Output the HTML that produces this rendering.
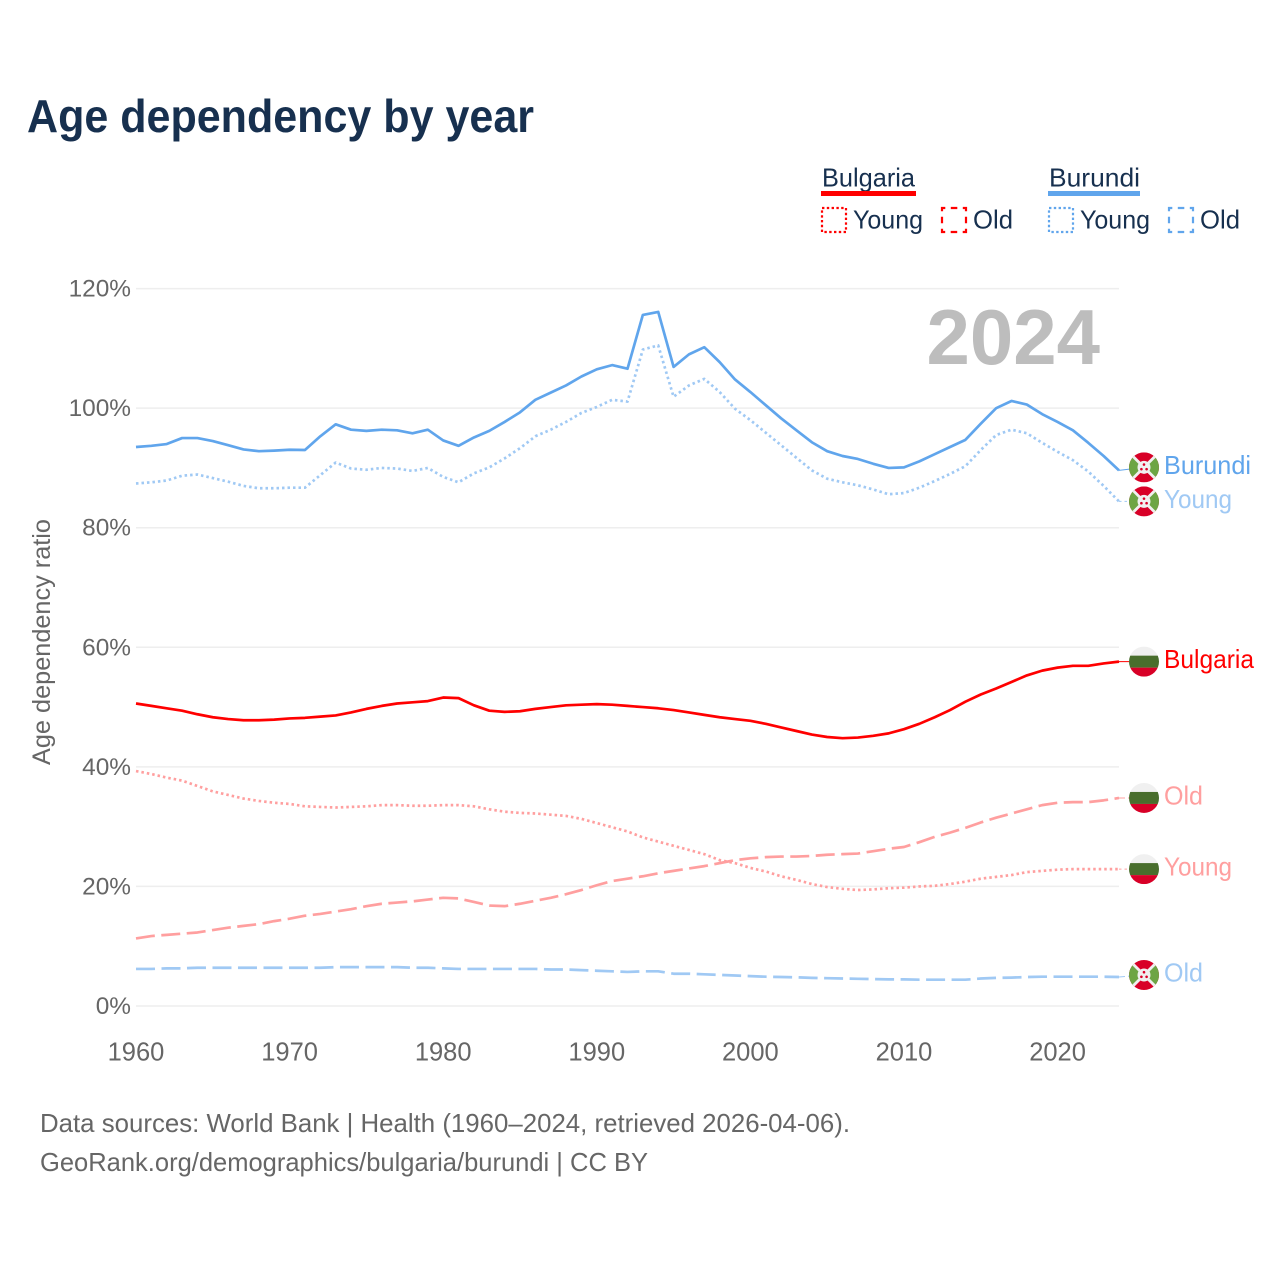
<!DOCTYPE html>
<html lang="en">
<head>
<meta charset="utf-8">
<title>Age dependency by year</title>
<style>
html,body{margin:0;padding:0;background:#fff;}
svg{display:block;font-family:"Liberation Sans",sans-serif;}
</style>
</head>
<body>
<svg id="chart" xmlns="http://www.w3.org/2000/svg" width="1280" height="1280" viewBox="0 0 1280 1280">
  <defs>
    <clipPath id="flag-clip"><circle cx="0" cy="0" r="15"/></clipPath>
    <g id="flag-bulgaria" clip-path="url(#flag-clip)">
      <rect x="-15" y="-15" width="30" height="30" fill="#f0f0f0"/>
      <rect x="-15" y="-6" width="30" height="12" fill="#496e2d"/>
      <rect x="-15" y="6" width="30" height="9" fill="#d80027"/>
    </g>
    <g id="flag-burundi" clip-path="url(#flag-clip)">
      <rect x="-15" y="-15" width="30" height="30" fill="#d80027"/>
      <polygon points="-15,-15 0,0 -15,15" fill="#6da544"/>
      <polygon points="15,-15 0,0 15,15" fill="#6da544"/>
      <line x1="-15" y1="-15" x2="15" y2="15" stroke="#f0f0f0" stroke-width="2.8"/>
      <line x1="15" y1="-15" x2="-15" y2="15" stroke="#f0f0f0" stroke-width="2.8"/>
      <circle cx="0" cy="0" r="6.5" fill="#f0f0f0"/>
      <circle cx="0" cy="-2.8" r="1.3" fill="#d80027"/>
      <circle cx="-2.6" cy="1.8" r="1.3" fill="#d80027"/>
      <circle cx="2.6" cy="1.8" r="1.3" fill="#d80027"/>
    </g>
  </defs>

  <text x="27" y="132" font-size="46" font-weight="700" fill="#17304f" textLength="507" lengthAdjust="spacingAndGlyphs">Age dependency by year</text>

  <g font-size="26" fill="#17304f">
    <text x="822" y="186.5" textLength="93" lengthAdjust="spacingAndGlyphs">Bulgaria</text>
    <rect x="821" y="191" width="95" height="5" fill="#ff0000"/>
    <rect x="822" y="208" width="24" height="24" fill="none" stroke="#ff0000" stroke-width="2.2" stroke-dasharray="2.4 2.4"/>
    <text x="853" y="228.5" textLength="70" lengthAdjust="spacingAndGlyphs">Young</text>
    <rect x="942" y="208" width="24" height="24" fill="none" stroke="#ff0000" stroke-width="2.2" stroke-dasharray="6.5 5.5" stroke-dashoffset="3.2"/>
    <text x="973" y="228.5" textLength="40" lengthAdjust="spacingAndGlyphs">Old</text>

    <text x="1049" y="186.5" textLength="91" lengthAdjust="spacingAndGlyphs">Burundi</text>
    <rect x="1048" y="191" width="92" height="5" fill="#60a5ec"/>
    <rect x="1049" y="208" width="24" height="24" fill="none" stroke="#60a5ec" stroke-width="2.2" stroke-dasharray="2.4 2.4"/>
    <text x="1080" y="228.5" textLength="70" lengthAdjust="spacingAndGlyphs">Young</text>
    <rect x="1169" y="208" width="24" height="24" fill="none" stroke="#60a5ec" stroke-width="2.2" stroke-dasharray="6.5 5.5" stroke-dashoffset="3.2"/>
    <text x="1200" y="228.5" textLength="40" lengthAdjust="spacingAndGlyphs">Old</text>
  </g>

  <g id="grid"></g>
  <text x="1100" y="364" text-anchor="end" font-size="78" font-weight="700" fill="#bdbdbd">2024</text>
  <g id="axis-labels"></g>
  <text transform="translate(50,642) rotate(-90)" text-anchor="middle" font-size="25" fill="#666666" textLength="246" lengthAdjust="spacingAndGlyphs">Age dependency ratio</text>
  <g id="series"></g>
  <g id="end-labels"></g>

  <g font-size="26" fill="#666666">
    <text x="40" y="1132" textLength="810" lengthAdjust="spacingAndGlyphs">Data sources: World Bank | Health (1960–2024, retrieved 2026-04-06).</text>
    <text x="40" y="1171" textLength="608" lengthAdjust="spacingAndGlyphs">GeoRank.org/demographics/bulgaria/burundi | CC BY</text>
  </g>
</svg>
<script>
const years = [1960,1961,1962,1963,1964,1965,1966,1967,1968,1969,1970,1971,1972,1973,1974,1975,1976,1977,1978,1979,1980,1981,1982,1983,1984,1985,1986,1987,1988,1989,1990,1991,1992,1993,1994,1995,1996,1997,1998,1999,2000,2001,2002,2003,2004,2005,2006,2007,2008,2009,2010,2011,2012,2013,2014,2015,2016,2017,2018,2019,2020,2021,2022,2023,2024];
const yTicks = [0,20,40,60,80,100,120];
const xTicks = [1960,1970,1980,1990,2000,2010,2020];

const burundiTotal = [93.5,93.7,94.0,95.0,95.0,94.5,93.8,93.1,92.8,92.9,93.05,93.0,95.3,97.3,96.4,96.2,96.4,96.3,95.8,96.4,94.6,93.7,95.1,96.2,97.7,99.3,101.4,102.6,103.8,105.3,106.5,107.2,106.6,115.6,116.1,106.9,109.0,110.2,107.7,104.8,102.7,100.5,98.3,96.3,94.3,92.8,92.0,91.5,90.7,90.0,90.1,91.1,92.3,93.5,94.7,97.4,100.0,101.2,100.6,99.0,97.7,96.3,94.2,92.0,89.6];
const burundiYoung = [87.4,87.6,87.9,88.7,88.9,88.3,87.7,87.0,86.6,86.6,86.7,86.7,88.8,90.9,89.9,89.7,90.0,89.9,89.5,90.0,88.5,87.6,89.1,90.1,91.6,93.3,95.3,96.4,97.7,99.2,100.2,101.4,101.1,109.8,110.5,101.9,103.8,104.9,102.7,99.9,98.0,95.9,93.8,91.7,89.6,88.2,87.6,87.1,86.4,85.6,85.8,86.7,87.8,89.0,90.3,93.0,95.5,96.4,95.8,94.2,92.7,91.3,89.4,87.0,84.4];
const burundiOld = [6.2,6.2,6.3,6.3,6.4,6.4,6.4,6.4,6.4,6.4,6.4,6.4,6.4,6.5,6.5,6.5,6.5,6.5,6.4,6.4,6.3,6.2,6.2,6.2,6.2,6.2,6.2,6.1,6.1,6.0,5.9,5.8,5.7,5.8,5.8,5.4,5.4,5.3,5.2,5.1,5.0,4.9,4.85,4.8,4.7,4.65,4.6,4.55,4.5,4.45,4.45,4.4,4.4,4.4,4.4,4.6,4.7,4.75,4.85,4.9,4.9,4.9,4.9,4.9,4.85];
const bulgariaTotal = [50.6,50.2,49.8,49.4,48.8,48.3,48.0,47.8,47.8,47.9,48.1,48.2,48.4,48.6,49.1,49.7,50.2,50.6,50.8,51.0,51.6,51.5,50.3,49.4,49.2,49.3,49.7,50.0,50.3,50.4,50.5,50.4,50.2,50.0,49.8,49.5,49.1,48.7,48.3,48.0,47.7,47.2,46.6,46.0,45.4,45.0,44.8,44.9,45.2,45.6,46.3,47.2,48.3,49.5,50.9,52.1,53.1,54.2,55.3,56.1,56.6,56.9,56.9,57.3,57.6];
const bulgariaYoung = [39.3,38.8,38.2,37.7,36.8,35.9,35.3,34.7,34.3,34.0,33.8,33.4,33.3,33.2,33.3,33.4,33.6,33.6,33.5,33.5,33.6,33.6,33.4,32.9,32.5,32.3,32.2,32.0,31.8,31.3,30.6,29.9,29.2,28.2,27.5,26.8,26.1,25.4,24.4,23.9,23.1,22.5,21.7,21.1,20.4,19.9,19.6,19.4,19.5,19.7,19.8,20.0,20.1,20.4,20.8,21.3,21.6,21.9,22.4,22.6,22.8,22.9,22.9,22.9,22.9];
const bulgariaOld = [11.3,11.7,11.9,12.1,12.3,12.7,13.1,13.4,13.7,14.2,14.6,15.1,15.4,15.8,16.2,16.7,17.1,17.3,17.5,17.8,18.1,18.0,17.4,16.8,16.7,17.1,17.6,18.1,18.7,19.4,20.2,20.9,21.3,21.7,22.2,22.6,23.0,23.4,23.9,24.4,24.7,24.9,25.0,25.0,25.1,25.3,25.4,25.5,25.9,26.3,26.6,27.4,28.3,29.0,29.8,30.7,31.5,32.2,32.9,33.6,34.0,34.1,34.1,34.4,34.8];

const SVG_NS = 'http://www.w3.org/2000/svg';
const plot = {left: 136, right: 1119, bottom: 1006, top: 288.6, xMin: 1960, xMax: 2024, yMin: 0, yMax: 120};
function xScale(year) {
  return plot.left + (year - plot.xMin) / (plot.xMax - plot.xMin) * (plot.right - plot.left);
}
function yScale(value) {
  return plot.bottom - (value - plot.yMin) / (plot.yMax - plot.yMin) * (plot.bottom - plot.top);
}
function make(tag, attrs) {
  const el = document.createElementNS(SVG_NS, tag);
  for (const key in attrs) el.setAttribute(key, attrs[key]);
  return el;
}

const gridGroup = document.getElementById('grid');
const labelGroup = document.getElementById('axis-labels');
yTicks.forEach(function (tick) {
  const line = make('line', {x1: plot.left, x2: plot.right, y1: yScale(tick), y2: yScale(tick), stroke: '#eeeeee', 'stroke-width': 1.5});
  
  
  gridGroup.appendChild(line);
  const label = make('text', {x: 131, y: yScale(tick) + 8, 'text-anchor': 'end', 'font-size': 24.4, fill: '#666666'});
  
  
  label.textContent = tick + '%';
  labelGroup.appendChild(label);
});
xTicks.forEach(function (tick) {
  const label = make('text', {x: xScale(tick), y: 1060.5, 'text-anchor': 'middle', 'font-size': 25.5, fill: '#666666'});
  
  
  label.textContent = tick;
  labelGroup.appendChild(label);
});

const BLUE = '#60a5ec', BLUE_LIGHT = '#a0c9f4', RED = '#ff0000', RED_LIGHT = '#ff9f9f';
const DOTTED = '2.5 3', DASHED = '19 6.5';
const seriesList = [
  {key: 'burundi-young', values: burundiYoung, color: BLUE_LIGHT, dash: DOTTED, text: 'Young', flag: '#flag-burundi', nudge: 0, width: 68},
  {key: 'burundi-old', values: burundiOld, color: BLUE_LIGHT, dash: DASHED, text: 'Old', flag: '#flag-burundi', nudge: -2, width: 39},
  {key: 'bulgaria-young', values: bulgariaYoung, color: RED_LIGHT, dash: DOTTED, text: 'Young', flag: '#flag-bulgaria', nudge: 0, width: 68},
  {key: 'bulgaria-old', values: bulgariaOld, color: RED_LIGHT, dash: DASHED, text: 'Old', flag: '#flag-bulgaria', nudge: 0, width: 39},
  {key: 'burundi-total', values: burundiTotal, color: BLUE, dash: '', text: 'Burundi', flag: '#flag-burundi', nudge: -3, width: 87},
  {key: 'bulgaria-total', values: bulgariaTotal, color: RED, dash: '', text: 'Bulgaria', flag: '#flag-bulgaria', nudge: 0, width: 90}
];

const seriesGroup = document.getElementById('series');
const endGroup = document.getElementById('end-labels');
seriesList.forEach(function (s) {
  const points = s.values.map(function (v, i) {
    return xScale(years[i]).toFixed(2) + ',' + yScale(v).toFixed(2);
  }).join(' ');
  const line = make('polyline', {points: points, fill: 'none', stroke: s.color, 'stroke-width': 2.7, 'stroke-linejoin': 'round'});
  if (s.dash) line.setAttribute('stroke-dasharray', s.dash);
  
  
  seriesGroup.appendChild(line);

  const lastValue = s.values[s.values.length - 1];
  const lastY = yScale(lastValue);
  const flagY = lastY + s.nudge;

  const connector = make('line', {x1: plot.right, y1: lastY, x2: xScale(plot.xMax) + 25, y2: flagY, stroke: s.color, 'stroke-width': 1});
  if (s.dash) connector.setAttribute('stroke-dasharray', s.dash === DASHED ? '6 3' : s.dash);
  
  
  endGroup.appendChild(connector);

  const flag = make('use', {href: s.flag, transform: 'translate(1144,' + flagY.toFixed(2) + ')'});
  
  
  endGroup.appendChild(flag);

  const label = make('text', {x: 1164, y: flagY + 6.5, 'font-size': 26, fill: s.color, textLength: s.width, lengthAdjust: 'spacingAndGlyphs'});
  
  
  label.textContent = s.text;
  endGroup.appendChild(label);
});
</script>
</body>
</html>
